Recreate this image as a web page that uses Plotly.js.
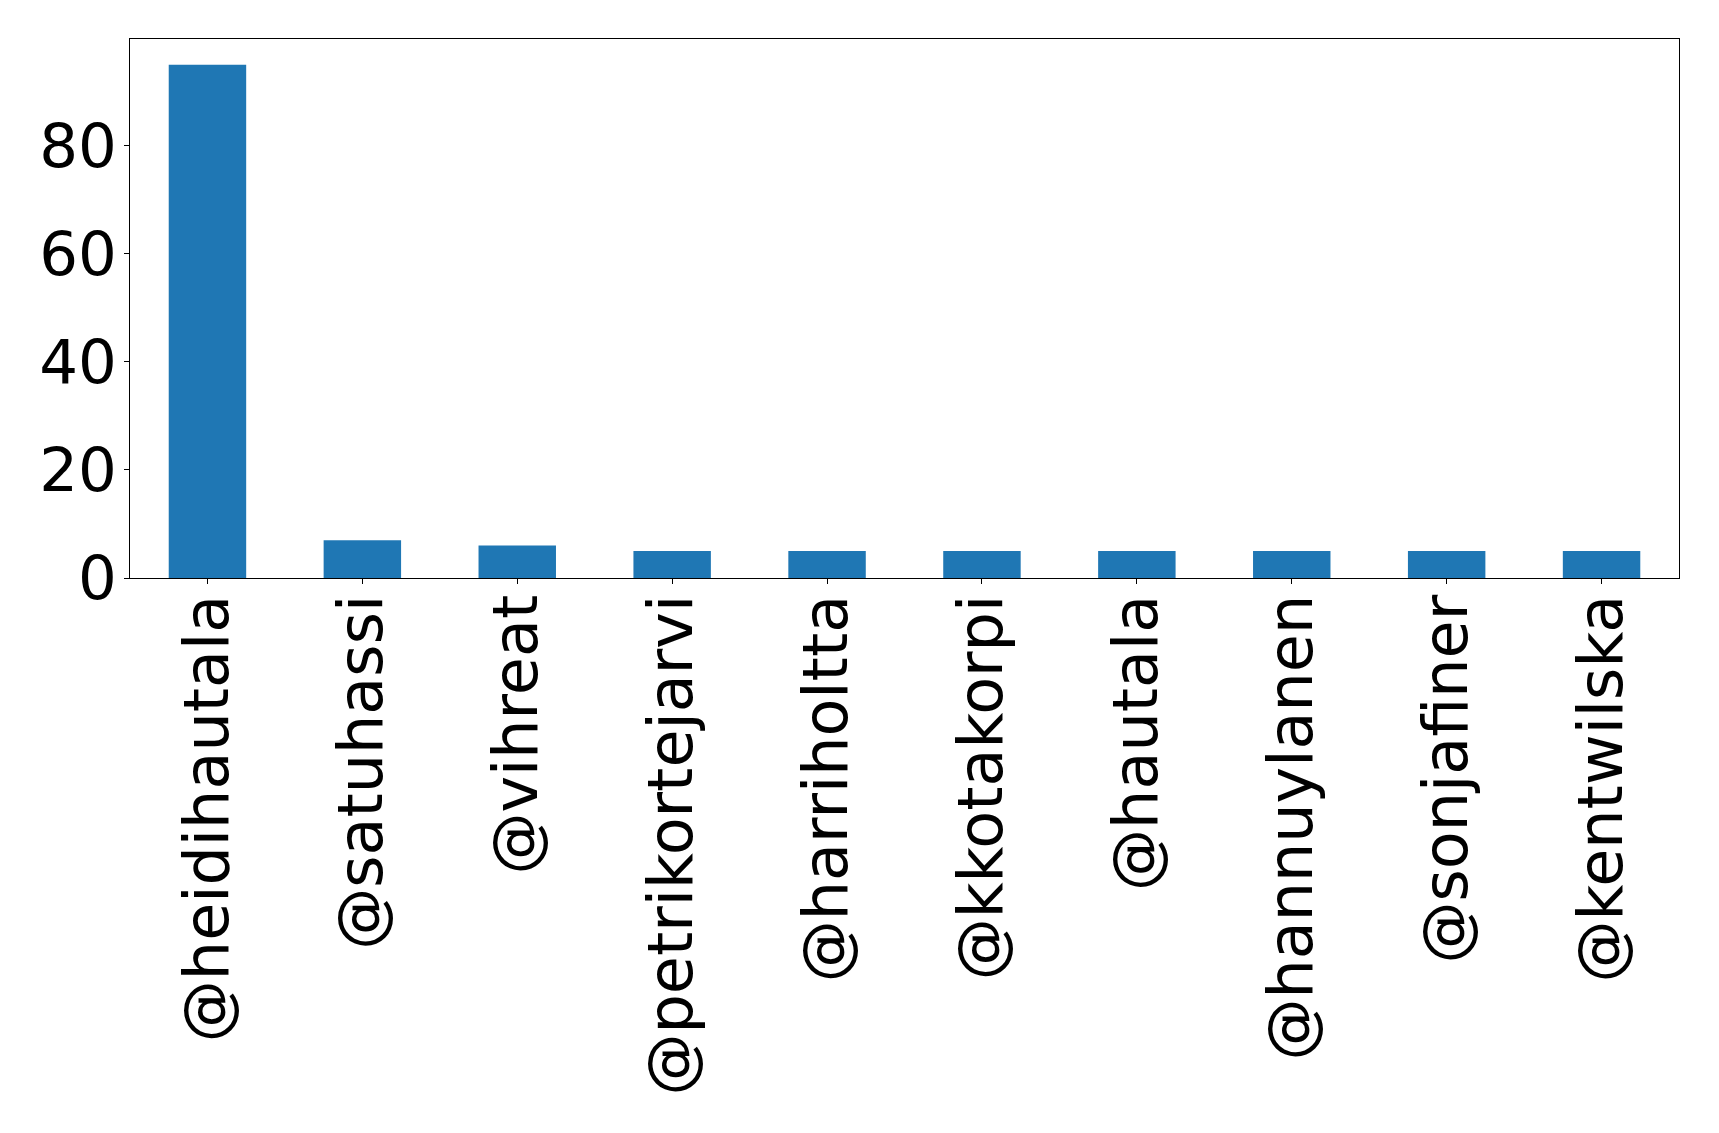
<!DOCTYPE html>
<html>
<head>
<meta charset="utf-8">
<script src="https://cdn.plot.ly/plotly-3.0.1.min.js"></script>
<style>html,body{margin:0;padding:0;background:#fff;}#chart{width:1719px;height:1133px;}</style>
</head>
<body>
<div id="chart"></div>
<script>
const categories = ["@heidihautala","@satuhassi","@vihreat","@petrikortejarvi","@harriholtta","@kkotakorpi","@hautala","@hannuylanen","@sonjafiner","@kentwilska"];
const counts = [95, 7, 6, 5, 5, 5, 5, 5, 5, 5];
const yTicks = [0, 20, 40, 60, 80];

const trace = {
  type: 'bar',
  x: categories.map((c, i) => i),
  y: counts,
  width: 0.5,
  marker: {color: '#1f77b4', line: {width: 0}},
  hoverinfo: 'skip'
};

const layout = {
  width: 1719,
  height: 1133,
  margin: {l: 129.5, r: 40, t: 39, b: 555},
  paper_bgcolor: '#fff',
  plot_bgcolor: '#fff',
  showlegend: false,
  font: {family: 'DejaVu Sans', color: '#000', size: 62},
  xaxis: {
    range: [-0.5, 9.5],
    tickmode: 'array',
    tickvals: categories.map((c, i) => i),
    ticktext: categories,
    tickangle: -90,
    ticks: 'outside', ticklen: 5, tickwidth: 1, tickcolor: '#000',
    ticklabelstandoff: -14,
    showline: true, linecolor: '#000', linewidth: 1, mirror: true,
    showgrid: false, zeroline: false,
    tickfont: {family: 'DejaVu Sans', size: 62, color: '#000'}
  },
  yaxis: {
    range: [0, 99.75],
    tickmode: 'array',
    tickvals: yTicks,
    ticktext: yTicks.map(String),
    ticks: 'outside', ticklen: 5, tickwidth: 1, tickcolor: '#000',
    ticklabelstandoff: -5,
    showline: true, linecolor: '#000', linewidth: 1, mirror: true,
    showgrid: false, zeroline: false,
    tickfont: {family: 'DejaVu Sans', size: 61, color: '#000'}
  }
};

Plotly.newPlot('chart', [trace], layout, {staticPlot: true, displayModeBar: false});
</script>
</body>
</html>
